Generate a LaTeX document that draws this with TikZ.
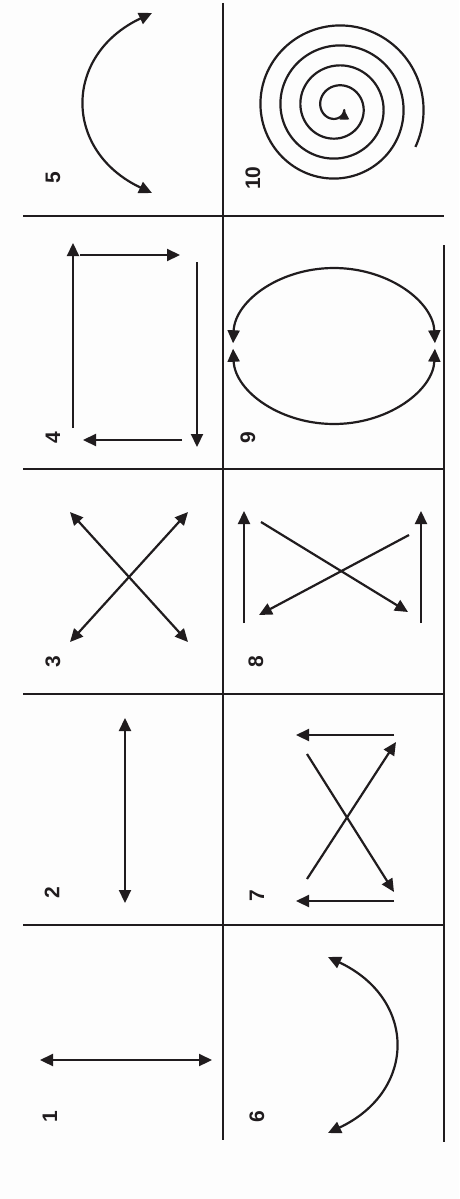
\documentclass[tikz,border=0pt]{standalone}
\usepackage{fontspec}
\setsansfont{Liberation Sans}
\usepackage{tikz}
\usetikzlibrary{arrows.meta}
\definecolor{mvink}{RGB}{32,28,30}
\definecolor{mvpaper}{RGB}{253,253,253}
\tikzset{
  mvrule/.style={draw=mvink, line width=2pt},
  mvline/.style={draw=mvink, line width=2.2pt, line join=round},
  mvarr/.style={mvline, -{Triangle[length=13pt,width=12pt]}},
  mvdbl/.style={mvline, {Triangle[length=13pt,width=12pt]}-{Triangle[length=13pt,width=12pt]}},
  mvnum/.style={font=\fontsize{21}{21}\selectfont\sffamily\bfseries, text=mvink,
    rotate=90, inner sep=0pt}
}

\begin{document}
\begin{tikzpicture}[x=1pt, y=-1pt]
  \fill[mvpaper] (0,0) rectangle (459,1199);
  \useasboundingbox (0,0) rectangle (459,1199);

  % table rules
  \coordinate (midtop) at (223,3);
  \coordinate (midbot) at (223,1140);
  \coordinate (rgttop) at (444,245);
  \coordinate (rgtbot) at (444,1142);
  \draw[mvrule] (midtop) -- (midbot);
  \draw[mvrule] (rgttop) -- (rgtbot);
  \foreach \y in {216,469,694,925}
    \draw[mvrule] (23,\y) -- (444,\y);

  % numbers
  \node[mvnum] (n5) at (53,178) {5};
  \node[mvnum] (n10) at (253,178) {10};
  \node[mvnum] (n4) at (53,438) {4};
  \node[mvnum] (n9) at (248,438) {9};
  \node[mvnum] (n3) at (53,662) {3};
  \node[mvnum] (n8) at (256,662) {8};
  \node[mvnum] (n2) at (52,893) {2};
  \node[mvnum] (n7) at (257,896) {7};
  \node[mvnum] (n1) at (50,1117) {1};
  \node[mvnum] (n6) at (257,1117) {6};

  % 5
  \coordinate (a5t) at (152,13);
  \coordinate (a5b) at (152,193);
  \draw[mvdbl] (a5t) .. controls +(-89,42) and +(-89,-42) .. (a5b);

  % 10
  \draw[mvline, -{Triangle[length=10pt,width=9pt]}]
    plot[domain=-27:1420, samples=500, smooth, variable=\t]
    ({337+(88-(\t+27)/18)*cos(\t)}, {107-(88-(\t+27)/18)*sin(\t)});

  % 4
  \coordinate (r4a) at (73,428);
  \coordinate (r4b) at (73,243);
  \coordinate (r4c) at (80,255);
  \coordinate (r4d) at (180,255);
  \coordinate (r4e) at (197,262);
  \coordinate (r4f) at (197,447);
  \coordinate (r4g) at (182,440);
  \coordinate (r4h) at (83,440);
  \draw[mvarr] (r4a) -- (r4b);
  \draw[mvarr] (r4c) -- (r4d);
  \draw[mvarr] (r4e) -- (r4f);
  \draw[mvarr] (r4g) -- (r4h);

  % 9
  \coordinate (e9tl) at (233.06,343.28);
  \coordinate (e9bl) at (233.06,348.72);
  \draw[mvdbl] (e9tl) arc[start angle=182, end angle=358, x radius=101, y radius=78];
  \draw[mvdbl] (e9bl) arc[start angle=178, end angle=2, x radius=101, y radius=78];

  % 3
  \coordinate (x3a) at (70,512);
  \coordinate (x3b) at (188,642);
  \coordinate (x3c) at (188,512);
  \coordinate (x3d) at (70,642);
  \draw[mvdbl] (x3a) -- (x3b);
  \draw[mvdbl] (x3c) -- (x3d);

  % 8
  \coordinate (v8a) at (244,623);
  \coordinate (v8b) at (244,511);
  \coordinate (v8c) at (421,623);
  \coordinate (v8d) at (421,511);
  \coordinate (v8e) at (261,522);
  \coordinate (v8f) at (408,612);
  \coordinate (v8g) at (409,535);
  \coordinate (v8h) at (259,615);
  \draw[mvarr] (v8a) -- (v8b);
  \draw[mvarr] (v8c) -- (v8d);
  \draw[mvarr] (v8e) -- (v8f);
  \draw[mvarr] (v8g) -- (v8h);

  % 2
  \coordinate (l2t) at (125,718);
  \coordinate (l2b) at (125,903);
  \draw[mvdbl] (l2t) -- (l2b);

  % 7
  \coordinate (h7a) at (394,735);
  \coordinate (h7b) at (296,735);
  \coordinate (h7c) at (307,879);
  \coordinate (h7d) at (396,742);
  \coordinate (h7e) at (307,754);
  \coordinate (h7f) at (394,892);
  \coordinate (h7g) at (394,901);
  \coordinate (h7h) at (296,901);
  \draw[mvarr] (h7a) -- (h7b);
  \draw[mvarr] (h7c) -- (h7d);
  \draw[mvarr] (h7e) -- (h7f);
  \draw[mvarr] (h7g) -- (h7h);

  % 1
  \coordinate (l1l) at (40,1060);
  \coordinate (l1r) at (212,1060);
  \draw[mvdbl] (l1l) -- (l1r);

  % 6
  \coordinate (a6t) at (328,957);
  \coordinate (a6b) at (328,1133);
  \draw[mvdbl] (a6t) .. controls +(89,42) and +(89,-42) .. (a6b);
\end{tikzpicture}
\end{document}
